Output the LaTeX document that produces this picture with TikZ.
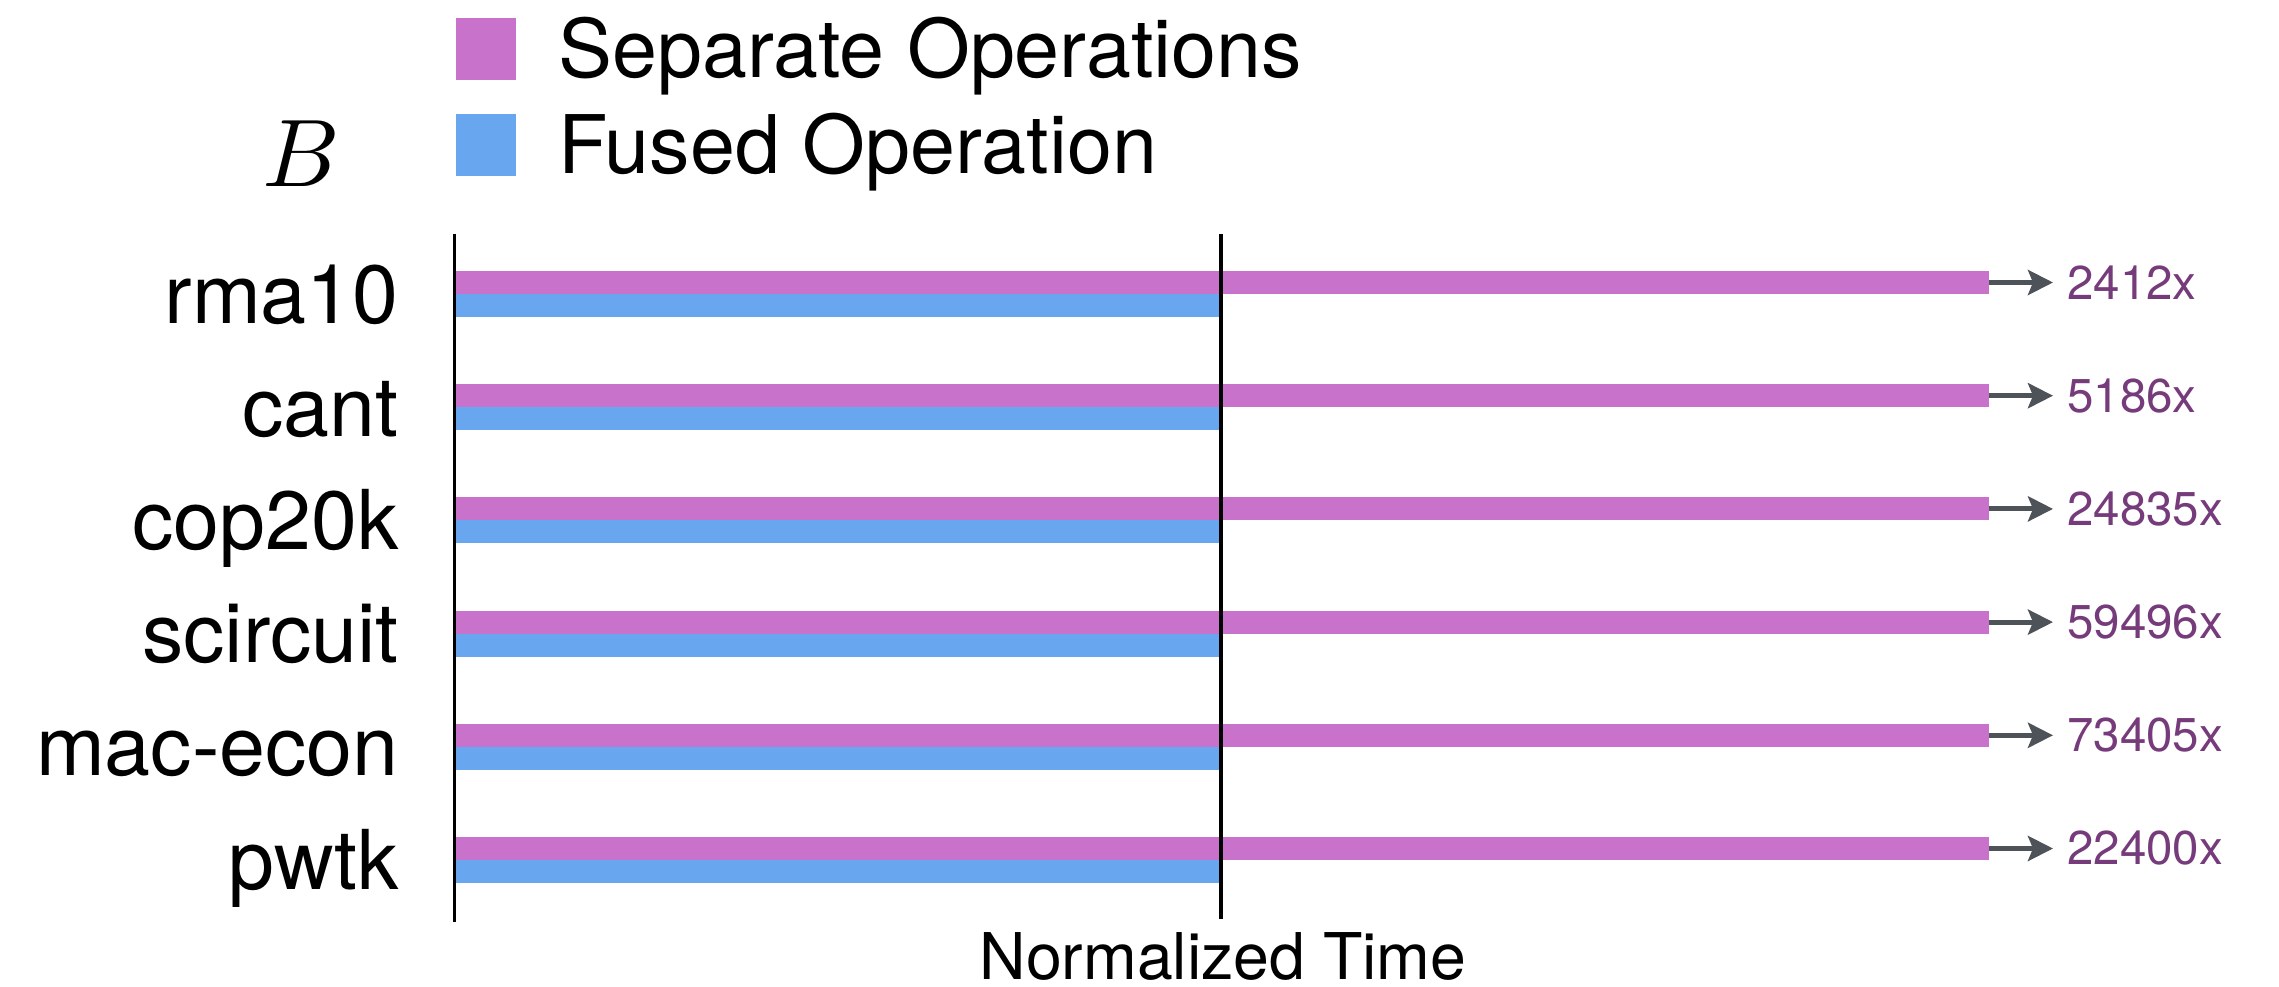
\documentclass[tikz,border=0pt]{standalone}
\usepackage{fontspec}
\setmainfont{TeX Gyre Heros}
\usetikzlibrary{arrows.meta}
\definecolor{sepc}{HTML}{C972CC}
\definecolor{fusc}{HTML}{69A6F0}
\definecolor{valc}{HTML}{763B7A}
\definecolor{arrc}{HTML}{4E5359}
\begin{document}
\begin{tikzpicture}[x=0.03cm,y=-0.03cm,
  lab/.style={font=\fontsize{70.5}{80}\selectfont, anchor=base east, inner sep=0pt},
  leg/.style={font=\fontsize{69}{80}\selectfont, anchor=base west, inner sep=0pt},
  val/.style={font=\fontsize{40.5}{46}\selectfont, text=valc, anchor=west, inner ysep=0pt, inner xsep=0.42cm},
  conn/.style={draw=arrc, line width=4.27pt, -{Stealth[length=0.75cm,width=0.75cm,inset=0.15cm]}},
  axisline/.style={draw=black, line width=2.1pt},
  midline/.style={draw=black, line width=3.8pt}]
\useasboundingbox (0,0) rectangle (2279,987);
% legend
\fill[sepc] (456,18) rectangle (516,80);
\node[leg] (l1) at (558,78) {Separate Operations};
\fill[fusc] (456,114) rectangle (516,176);
\node[leg] (l2) at (558,174) {Fused Operation};
\node[anchor=base, inner sep=0pt, font=\normalsize, scale=8.2] (bl) at (301,187) {$B$};
% rows
\foreach \name/\val [count=\i from 0] in {rma10/2412x, cant/5186x, cop20k/24835x, scircuit/59496x, mac-econ/73405x, pwtk/22400x} {
  \pgfmathsetmacro\t{271+113.2*\i}
  \fill[sepc] (456,\t) rectangle (1989,\t+23);
  \fill[fusc] (456,\t+23) rectangle (1221,\t+46);
  \coordinate (e\i) at (1989,\t+11.5);
  \node[val] (v\i) at (2053,\t+11.5) {\val};
  \draw[conn] (e\i) -- (v\i.west);
  \node[lab] (n\i) at (399,\t+52) {\name};
}
% axes
\coordinate (at) at (454.5,234);
\coordinate (ab) at (454.5,922);
\draw[axisline] (at) -- (ab);
\coordinate (mt) at (1221,234);
\coordinate (mb) at (1221,919);
\draw[midline] (mt) -- (mb);
\node[anchor=base, inner sep=0pt, font=\fontsize{55}{60}\selectfont] (xl) at (1223,979) {Normalized Time};
\end{tikzpicture}
\end{document}
